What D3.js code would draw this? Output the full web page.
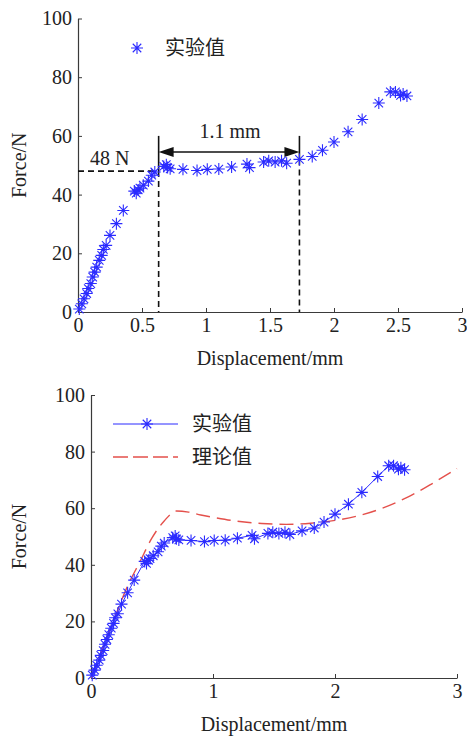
<!DOCTYPE html>
<html>
<head>
<meta charset="utf-8">
<script src="https://cdn.jsdelivr.net/npm/d3@7"></script>
<style>
  html, body { margin: 0; padding: 0; background: #fff; }
  svg { display: block; }
  text { font-family: "Liberation Serif", "Times New Roman", "Noto Sans CJK SC", serif; fill: #222; }
  .cjk { font-family: "Noto Sans CJK SC", sans-serif; }
</style>
</head>
<body>
<script>
// Measured force–displacement data (experiment)
const displacement = [0.01, 0.03, 0.047, 0.068, 0.08, 0.1, 0.115, 0.13, 0.146, 0.166, 0.185, 0.198, 0.22, 0.25, 0.30, 0.354,
  0.44, 0.455, 0.47, 0.484, 0.51, 0.55, 0.576, 0.6, 0.67, 0.69, 0.70, 0.72, 0.82, 0.93, 1.01, 1.10, 1.20, 1.32, 1.34,
  1.45, 1.49, 1.54, 1.59, 1.63, 1.73, 1.83, 1.91, 2.0, 2.11, 2.22, 2.35, 2.44, 2.48, 2.52, 2.54, 2.57];
const force = [1.0, 2.8, 4.5, 6.3, 8.0, 9.7, 11.9, 13.6, 15.3, 17.6, 19.3, 21.3, 22.7, 26.1, 30.1, 34.6,
  41.2, 40.5, 41.6, 42.2, 43.2, 44.6, 46.6, 47.7, 49.6, 50.2, 49.2, 48.8, 48.6, 48.2, 48.6, 48.7, 49.4, 50.4, 49.2,
  51.1, 51.5, 51.1, 51.5, 50.7, 52.0, 53.0, 55.1, 57.9, 61.4, 65.6, 71.2, 75.0, 75.0, 73.8, 74.3, 73.6];

// Theoretical model curve
const theoryDisp = [0, 0.1, 0.2, 0.3, 0.4, 0.5, 0.6, 0.7, 0.8, 0.9, 1.0, 1.2, 1.4, 1.6, 1.8, 2.0, 2.2, 2.4, 2.6, 2.8, 3.0];
const theoryForce = [0, 11, 22, 32.5, 41, 49.5, 55.5, 59, 58.6, 57.6, 56.8, 55.4, 54.6, 54.3, 54.7, 55.7, 57.4, 60.2, 64, 68.8, 74];

// Axis ticks
const yTicks = [0, 20, 40, 60, 80, 100];
const xTicksTop = [0, 0.5, 1, 1.5, 2, 2.5, 3];
const xTicksBottom = [0, 1, 2, 3];

// Annotation values (upper panel)
const plateauForce = 48;       // N
const plateauStart = 0.63;     // mm
const plateauEnd = 1.73;       // mm
const plateauLabel = "48 N";
const widthLabel = "1.1 mm";

const seriesExp = "实验值";
const seriesTheory = "理论值";

const W = 467, H = 742;
const BLUE = "#2b2bff";
const RED = "#e4504b";
const AXIS = "#3a3a3a";
const FS = 20;

const svg = d3.select("body").append("svg").attr("width", W).attr("height", H);
svg.append("rect").attr("width", W).attr("height", H).attr("fill", "#fff");

const expData = displacement.map((d, i) => ({ x: d, y: force[i] }));
const theoryData = theoryDisp.map((d, i) => ({ x: d, y: theoryForce[i] }));

// asterisk marker (plus + cross)
function starPath(r) {
  const a = r * 0.7071;
  return `M${-r},0L${r},0M0,${-r}L0,${r}M${-a},${-a}L${a},${a}M${-a},${a}L${a},${-a}`;
}

function drawAxes(g, x, y, xTicks) {
  const xa = d3.axisBottom(x).tickValues(xTicks).tickFormat(d => String(d))
    .tickSizeInner(-4).tickSizeOuter(0).tickPadding(6);
  const ya = d3.axisLeft(y).tickValues(yTicks).tickFormat(d => String(d))
    .tickSizeInner(-4).tickSizeOuter(0).tickPadding(6);
  const gx = g.append("g").attr("transform", `translate(0,${y(0)})`).call(xa);
  const gy = g.append("g").attr("transform", `translate(${x(0)},0)`).call(ya);
  [gx, gy].forEach(a => {
    a.select(".domain").attr("stroke", AXIS).attr("stroke-width", 1.2);
    a.selectAll(".tick line").attr("stroke", AXIS).attr("stroke-width", 1);
    a.selectAll(".tick text").attr("font-size", FS).attr("fill", "#222")
      .attr("font-family", "Liberation Serif, serif");
  });
}

function axisLabels(g, x, y) {
  g.append("text").attr("x", (x.range()[0] + x.range()[1]) / 2).attr("y", y(0) + 53)
    .attr("text-anchor", "middle").attr("font-size", FS).text("Displacement/mm");
  const cy = (y.range()[0] + y.range()[1]) / 2;
  g.append("text").attr("transform", `translate(26,${cy}) rotate(-90)`)
    .attr("text-anchor", "middle").attr("font-size", FS).text("Force/N");
}

function drawStars(g, x, y, data, r) {
  g.append("g").selectAll("path").data(data).join("path")
    .attr("transform", d => `translate(${x(d.x)},${y(d.y)})`)
    .attr("d", starPath(r)).attr("stroke", BLUE).attr("stroke-width", 1.1).attr("fill", "none");
}

// ---------- upper panel ----------
{
  const g = svg.append("g");
  const x = d3.scaleLinear().domain([0, 3]).range([78, 462]);
  const y = d3.scaleLinear().domain([0, 100]).range([312, 18.5]);
  drawAxes(g, x, y, xTicksTop);
  axisLabels(g, x, y);

  // plateau annotation
  const ann = g.append("g").attr("stroke", "#111").attr("stroke-width", 1.6).attr("fill", "none");
  ann.append("line").attr("x1", x(0)).attr("x2", x(plateauStart))
    .attr("y1", y(plateauForce)).attr("y2", y(plateauForce)).attr("stroke-dasharray", "6,4");
  ann.append("line").attr("x1", x(plateauStart)).attr("x2", x(plateauStart))
    .attr("y1", y(plateauForce)).attr("y2", y(0)).attr("stroke-dasharray", "6,4");
  ann.append("line").attr("x1", x(plateauEnd)).attr("x2", x(plateauEnd))
    .attr("y1", y(52)).attr("y2", y(0)).attr("stroke-dasharray", "6,4");
  ann.append("line").attr("x1", x(plateauStart)).attr("x2", x(plateauStart))
    .attr("y1", y(60)).attr("y2", y(plateauForce));
  ann.append("line").attr("x1", x(plateauEnd)).attr("x2", x(plateauEnd))
    .attr("y1", y(60)).attr("y2", y(52));
  const ay = y(54.5);
  ann.append("line").attr("x1", x(plateauStart) + 10).attr("x2", x(plateauEnd) - 10)
    .attr("y1", ay).attr("y2", ay);
  const x0 = x(plateauStart), x1 = x(plateauEnd);
  g.append("path").attr("d", `M${x0},${ay}L${x0 + 15},${ay - 5}L${x0 + 15},${ay + 5}Z`).attr("fill", "#111");
  g.append("path").attr("d", `M${x1},${ay}L${x1 - 15},${ay - 5}L${x1 - 15},${ay + 5}Z`).attr("fill", "#111");

  g.append("text").attr("x", 90).attr("y", 165).attr("font-size", FS).text(plateauLabel);
  g.append("text").attr("x", (x0 + x1) / 2 + 1).attr("y", 138).attr("text-anchor", "middle")
    .attr("font-size", FS).text(widthLabel);

  drawStars(g, x, y, expData, 6);

  // legend
  g.append("path").attr("transform", "translate(137,48)").attr("d", starPath(6))
    .attr("stroke", BLUE).attr("stroke-width", 1.1).attr("fill", "none");
  g.append("text").attr("class", "cjk").attr("x", 165).attr("y", 48).attr("dy", "0.36em")
    .attr("font-size", FS).text(seriesExp);
}

// ---------- lower panel ----------
{
  const g = svg.append("g");
  const x = d3.scaleLinear().domain([0, 3]).range([91, 457]);
  const y = d3.scaleLinear().domain([0, 100]).range([678, 395]);
  drawAxes(g, x, y, xTicksBottom);
  axisLabels(g, x, y);

  const line = d3.line().x(d => x(d.x)).y(d => y(d.y));
  g.append("path").datum(theoryData)
    .attr("d", line.curve(d3.curveMonotoneX))
    .attr("fill", "none").attr("stroke", RED).attr("stroke-width", 1.4).attr("stroke-dasharray", "14,7");

  g.append("path").datum(expData)
    .attr("d", d3.line().x(d => x(d.x)).y(d => y(d.y)))
    .attr("fill", "none").attr("stroke", BLUE).attr("stroke-width", 1);
  drawStars(g, x, y, expData, 6);

  // legend
  g.append("line").attr("x1", 113).attr("x2", 178).attr("y1", 424).attr("y2", 424)
    .attr("stroke", BLUE).attr("stroke-width", 1);
  g.append("path").attr("transform", "translate(147,424)").attr("d", starPath(6))
    .attr("stroke", BLUE).attr("stroke-width", 1.1).attr("fill", "none");
  g.append("text").attr("class", "cjk").attr("x", 192).attr("y", 424).attr("dy", "0.36em")
    .attr("font-size", FS).text(seriesExp);
  g.append("line").attr("x1", 113).attr("x2", 178).attr("y1", 457).attr("y2", 457)
    .attr("stroke", RED).attr("stroke-width", 1.4).attr("stroke-dasharray", "15,5");
  g.append("text").attr("class", "cjk").attr("x", 192).attr("y", 457).attr("dy", "0.36em")
    .attr("font-size", FS).text(seriesTheory);
}
</script>
</body>
</html>
